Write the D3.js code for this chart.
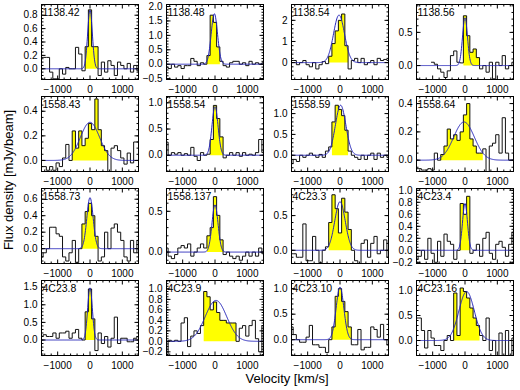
<!DOCTYPE html>
<html>
<head>
<meta charset="utf-8">
<script src="https://cdn.jsdelivr.net/npm/d3@7"></script>
<style>
  body { margin: 0; background: #fff; }
  svg text { font-family: "Liberation Sans", Arial, Helvetica, sans-serif; fill: #000; }
</style>
</head>
<body>
<svg id="chart" width="520" height="390"></svg>
<script>
// Panel names (left to right, top to bottom)
const names = ["1138.42", "1138.48", "1138.54", "1138.56",
               "1558.43", "1558.54", "1558.59", "1558.64",
               "1558.73", "1558.137", "4C23.3", "4C23.4",
               "4C23.8", "4C23.9", "4C23.10", "4C23.16"];

// Velocity channel centres (km/s), 100 km/s wide
const binCenters = [-1500, -1400, -1300, -1200, -1100, -1000, -900, -800, -700, -600, -500,
                    -400, -300, -200, -100, 0, 100, 200, 300, 400, 500,
                    600, 700, 800, 900, 1000, 1100, 1200, 1300, 1400, 1500];
const binWidth = 100;

// Flux density per channel (mJy/beam), null = no data
const flux = [
  [0.17,0.17,0.17,-0.05,-0.15,-0.15,0.0,-0.08,0.02,0.0,0.0,0.32,0.22,-0.03,0.33,0.88,0.33,0.33,-0.1,0.1,-0.05,0.12,0.05,-0.1,0.1,0.05,0.0,0.08,-0.05,0.05,-0.03],
  [-0.1,-0.15,0.0,-0.1,-0.05,-0.15,-0.05,-0.05,0.2,0.1,-0.05,0.05,0.0,0.3,1.7,1.45,0.6,0.1,-0.05,-0.1,0.05,0.1,0.1,0.0,0.05,-0.05,0.1,0.0,0.05,0.0,0.05],
  [0.1,0.1,-0.1,0.0,0.1,-0.1,-0.2,0.0,-0.3,-0.1,0.05,-0.05,0.3,0.9,1.5,2.0,2.3,0.8,-0.3,0.1,0.2,0.0,0.2,-0.1,0.0,0.1,-0.1,0.2,0.1,0.15,0.1],
  [null,null,null,null,null,0.05,0.02,-0.05,-0.1,-0.18,-0.08,0.15,0.22,0.05,0.04,0.75,0.45,0.2,0.25,0.12,-0.05,0.0,-0.1,0.05,-0.2,0.05,0.0,0.15,-0.05,0.0,0.05],
  [-0.05,-0.05,-0.08,-0.05,-0.08,-0.02,-0.05,0.02,0.13,0.0,0.24,0.1,0.24,0.12,0.18,0.3,0.25,0.5,0.25,0.12,0.08,-0.09,0.1,0.12,0.08,0.02,-0.03,0.06,-0.02,0.15,0.15],
  [0.25,0.0,0.05,0.02,0.05,0.0,0.03,0.0,0.15,-0.02,-0.1,0.05,0.0,0.02,0.3,0.95,0.7,0.35,-0.05,0.0,0.05,0.0,0.05,-0.02,0.05,0.0,0.02,0.0,0.05,0.3,0.05],
  [-0.2,-0.1,-0.15,0.0,-0.05,0.0,0.05,0.0,-0.05,0.02,-0.05,0.1,0.2,0.8,1.2,1.1,0.95,0.6,0.1,0.0,-0.05,-0.1,0.0,-0.1,0.0,0.05,-0.1,0.05,-0.05,0.0,-0.05],
  [-0.06,-0.06,-0.07,-0.07,-0.06,-0.07,0.05,0.0,0.04,0.1,0.22,0.15,0.18,0.14,0.2,0.32,0.4,0.15,0.1,0.05,0.05,0.08,-0.1,0.1,0.12,0.18,0.05,0.3,0.05,0.0,0.0],
  [-0.1,-0.05,0.0,0.26,0.26,0.18,0.15,-0.1,-0.15,-0.05,0.1,-0.17,0.0,0.3,0.45,0.55,0.4,0.15,-0.15,-0.1,0.2,0.0,0.25,0.3,0.2,0.1,-0.1,-0.15,0.1,-0.05,0.1],
  [0.05,-0.05,-0.08,-0.03,0.05,0.08,0.05,0.1,-0.05,0.0,0.05,0.1,0.05,0.2,0.3,0.68,0.45,0.15,-0.03,0.0,-0.05,-0.08,-0.05,-0.1,-0.05,0.0,-0.05,0.0,-0.05,0.05,-0.02],
  [-0.05,-0.05,-0.1,-0.1,0.38,-0.15,-0.15,0.2,0.0,-0.18,0.0,0.05,0.4,0.8,0.6,0.25,0.75,0.55,0.3,0.0,-0.15,-0.2,0.1,0.15,-0.1,0.1,0.2,-0.05,0.0,0.15,-0.1],
  [-0.15,-0.1,0.0,-0.15,0.2,-0.05,-0.2,0.15,-0.1,0.27,0.15,0.1,-0.15,0.0,0.78,0.6,0.9,-0.05,0.0,0.1,-0.1,0.2,0.3,-0.05,-0.15,0.1,0.15,0.05,-0.1,0.1,0.3],
  [0.1,0.15,0.1,0.1,0.2,0.05,0.2,0.2,0.25,0.05,0.2,0.3,0.05,0.0,0.8,1.45,0.6,-0.3,0.2,-0.1,0.1,-0.2,0.05,0.65,-0.1,0.05,0.05,-0.05,-0.05,0.05,0.1],
  [-0.25,0.02,0.0,0.02,0.0,0.35,0.45,-0.1,0.1,0.2,0.15,0.3,0.95,0.85,0.6,0.75,0.55,0.4,0.4,0.35,0.35,0.35,0.0,0.25,0.3,0.1,0.3,0.4,0.05,-0.2,0.3],
  [0.25,0.1,0.0,-0.05,-0.05,0.05,0.28,-0.1,-0.1,-0.15,-0.15,-0.25,0.0,0.25,0.85,1.0,0.75,0.55,0.25,-0.1,-0.1,0.2,-0.2,-0.15,-0.15,0.25,0.2,0.05,0.3,0.0,-0.1],
  [0.45,0.45,0.2,-0.15,0.2,0.05,-0.1,-0.1,-0.2,0.0,0.1,0.0,0.95,0.1,1.05,0.98,0.85,0.65,0.45,0.3,0.1,0.0,0.45,-0.2,0.0,-0.3,0.15,-0.3,0.2,-0.3,0.05]
];

// Channels shaded as line emission (first and last channel centre, km/s)
const lineFrom = [-100, -200, -300, 0, -500, -100, -200, -700, -200, -200, -300, -100, -100, -300, -200, -300];
const lineTo   = [ 200,  100,  200, 400, 500,  200,  200,  500,  200,  200,  300,  100,  100,  600,  300,  400];

// Gaussian fit: peak (mJy/beam), centre (km/s), FWHM (km/s)
const fitAmp    = [0.88, 1.75, 2.25, 0.72, 0.31, 0.93, 1.2, 0.27, 0.62, 0.58, 0.7, 0.78, 1.48, 0.78, 1.03, 0.98];
const fitCenter = [0, -20, -30, 0, 0, 0, 20, -30, 0, 0, 0, 0, 0, 30, 0, 50];
const fitFwhm   = [170, 230, 400, 180, 700, 220, 380, 750, 230, 220, 380, 180, 170, 780, 280, 560];

// y ranges and tick labels per panel
const yMin = [-0.16, -0.53, -0.8, -0.21, -0.09, -0.31, -0.39, -0.08, -0.18, -0.14, -0.19, -0.22, -0.44, -0.27, -0.31, -0.3];
const yMax = [0.96, 2.07, 2.75, 0.92, 0.52, 1.12, 1.41, 0.45, 0.73, 0.78, 0.89, 1.03, 1.69, 1.16, 1.16, 1.2];
const yTickLabels = [
  ["0.0", "0.2", "0.4", "0.6", "0.8"],
  ["−0.5", "0.0", "0.5", "1.0", "1.5", "2.0"],
  ["0", "1", "2"],
  ["0.0", "0.5"],
  ["0.0", "0.2", "0.4"],
  ["0.0", "0.5", "1.0"],
  ["0.0", "0.5", "1.0"],
  ["0.0", "0.2", "0.4"],
  ["0.0", "0.2", "0.4", "0.6"],
  ["0.0", "0.5"],
  ["0.0", "0.5"],
  ["−0.2", "0.0", "0.2", "0.4", "0.6", "0.8", "1.0"],
  ["0.0", "0.5", "1.0", "1.5"],
  ["−0.2", "0.0", "0.2", "0.4", "0.6", "0.8", "1.0"],
  ["0.0", "0.5", "1.0"],
  ["0.0", "0.5", "1.0"]
];
const xTicks = [-1000, 0, 1000];
const xMinorTicks = [-1400, -1200, -800, -600, -400, -200, 200, 400, 600, 800, 1200, 1400];

// Layout
const panelW = 97, panelH = 75;
const colStep = 125, rowStep = 92;
const left0 = 41, top0 = 4;
const fontFamily = '"Liberation Sans", Arial, Helvetica, sans-serif';

const svg = d3.select("#chart");
svg.append("rect").attr("width", 520).attr("height", 390).attr("fill", "#fff");

const x = d3.scaleLinear().domain([-1500, 1500]).range([0, panelW]);

// step points: left edge of every channel plus the right edge of the last
function stepPoints(bins) {
  if (!bins.length) return [];
  const last = bins[bins.length - 1];
  return bins.map(b => [b.x0, b.v]).concat([[last.x1, last.v]]);
}

names.forEach((name, i) => {
  const col = i % 4, row = Math.floor(i / 4);
  const g = svg.append("g")
    .attr("transform", `translate(${left0 + col * colStep + 0.5},${top0 + row * rowStep + 0.5})`);

  const y = d3.scaleLinear().domain([yMin[i], yMax[i]]).range([panelH, 0]);

  const clipId = "clip" + i;
  g.append("clipPath").attr("id", clipId)
    .append("rect").attr("width", panelW).attr("height", panelH);
  const plot = g.append("g").attr("clip-path", `url(#${clipId})`);

  const bins = binCenters.map((c, j) => ({
    c: c, x0: c - binWidth / 2, x1: c + binWidth / 2, v: flux[i][j]
  })).filter(b => b.v !== null);

  // yellow shaded line channels
  const lineBins = bins.filter(b => b.c >= lineFrom[i] && b.c <= lineTo[i]);
  const area = d3.area().curve(d3.curveStepAfter)
    .x(d => x(d[0])).y0(y(0)).y1(d => y(d[1]));
  plot.append("path")
    .datum(stepPoints(lineBins))
    .attr("d", area)
    .attr("fill", "#ffff00");

  // spectrum histogram
  const line = d3.line().curve(d3.curveStepAfter)
    .x(d => x(d[0])).y(d => y(d[1]));
  plot.append("path")
    .datum(stepPoints(bins))
    .attr("d", line)
    .attr("fill", "none")
    .attr("stroke", "#111")
    .attr("stroke-width", 1);

  // Gaussian fit
  const sigma = fitFwhm[i] / 2.3548;
  const fitPts = d3.range(-1500, 1501, 10)
    .map(v => [v, fitAmp[i] * Math.exp(-0.5 * Math.pow((v - fitCenter[i]) / sigma, 2))]);
  plot.append("path")
    .datum(fitPts)
    .attr("d", d3.line().x(d => x(d[0])).y(d => y(d[1])))
    .attr("fill", "none")
    .attr("stroke", "#2424b8")
    .attr("stroke-width", 1);

  // axes (ticks pointing inwards on all four sides)
  const yVals = yTickLabels[i].map(s => +s.replace("−", "-"));
  const yStep = yVals[1] - yVals[0];
  const nMinor = Math.abs(yStep - 0.2) < 1e-9 ? 4 : 5;
  const yMinor = [];
  for (let k = Math.ceil(yMin[i] / (yStep / nMinor)); k * yStep / nMinor <= yMax[i]; k++) {
    yMinor.push(+(k * yStep / nMinor).toFixed(4));
  }

  function styleAxis(sel) {
    sel.select(".domain").remove();
    sel.attr("font-family", fontFamily).attr("font-size", 10);
    sel.selectAll("line").attr("stroke", "#000");
  }

  g.append("g").attr("transform", `translate(0,${panelH})`)
    .call(d3.axisBottom(x).tickValues(xTicks).tickSizeInner(-4).tickSizeOuter(0)
      .tickPadding(6.5).offset(0).tickFormat(d3.format("d")))
    .call(styleAxis);
  g.append("g").attr("transform", `translate(0,${panelH})`)
    .call(d3.axisBottom(x).tickValues(xMinorTicks).tickSizeInner(-2).tickSizeOuter(0)
      .offset(0).tickFormat(""))
    .call(styleAxis);
  g.append("g")
    .call(d3.axisTop(x).tickValues(xTicks).tickSizeInner(-4).tickSizeOuter(0)
      .offset(0).tickFormat(""))
    .call(styleAxis);
  g.append("g")
    .call(d3.axisTop(x).tickValues(xMinorTicks).tickSizeInner(-2).tickSizeOuter(0)
      .offset(0).tickFormat(""))
    .call(styleAxis);

  g.append("g")
    .call(d3.axisLeft(y).tickValues(yVals).tickSizeInner(-4).tickSizeOuter(0)
      .tickPadding(4).offset(0).tickFormat((d, k) => yTickLabels[i][k]))
    .call(styleAxis);
  g.append("g")
    .call(d3.axisLeft(y).tickValues(yMinor).tickSizeInner(-2).tickSizeOuter(0)
      .offset(0).tickFormat(""))
    .call(styleAxis);
  g.append("g").attr("transform", `translate(${panelW},0)`)
    .call(d3.axisRight(y).tickValues(yVals).tickSizeInner(-4).tickSizeOuter(0)
      .offset(0).tickFormat(""))
    .call(styleAxis);
  g.append("g").attr("transform", `translate(${panelW},0)`)
    .call(d3.axisRight(y).tickValues(yMinor).tickSizeInner(-2).tickSizeOuter(0)
      .offset(0).tickFormat(""))
    .call(styleAxis);

  // frame
  g.append("rect")
    .attr("width", panelW).attr("height", panelH)
    .attr("fill", "none").attr("stroke", "#000").attr("stroke-width", 1);

  // panel name
  g.append("text")
    .attr("x", 1).attr("y", 11)
    .attr("font-size", 10.5)
    .text(name);
});

// axis titles
svg.append("text")
  .attr("transform", "translate(13,180) rotate(-90)")
  .attr("text-anchor", "middle")
  .attr("font-size", 13)
  .text("Flux density [mJy/beam]");

svg.append("text")
  .attr("x", 287).attr("y", 383)
  .attr("text-anchor", "middle")
  .attr("font-size", 13)
  .text("Velocity [km/s]");
</script>
</body>
</html>
